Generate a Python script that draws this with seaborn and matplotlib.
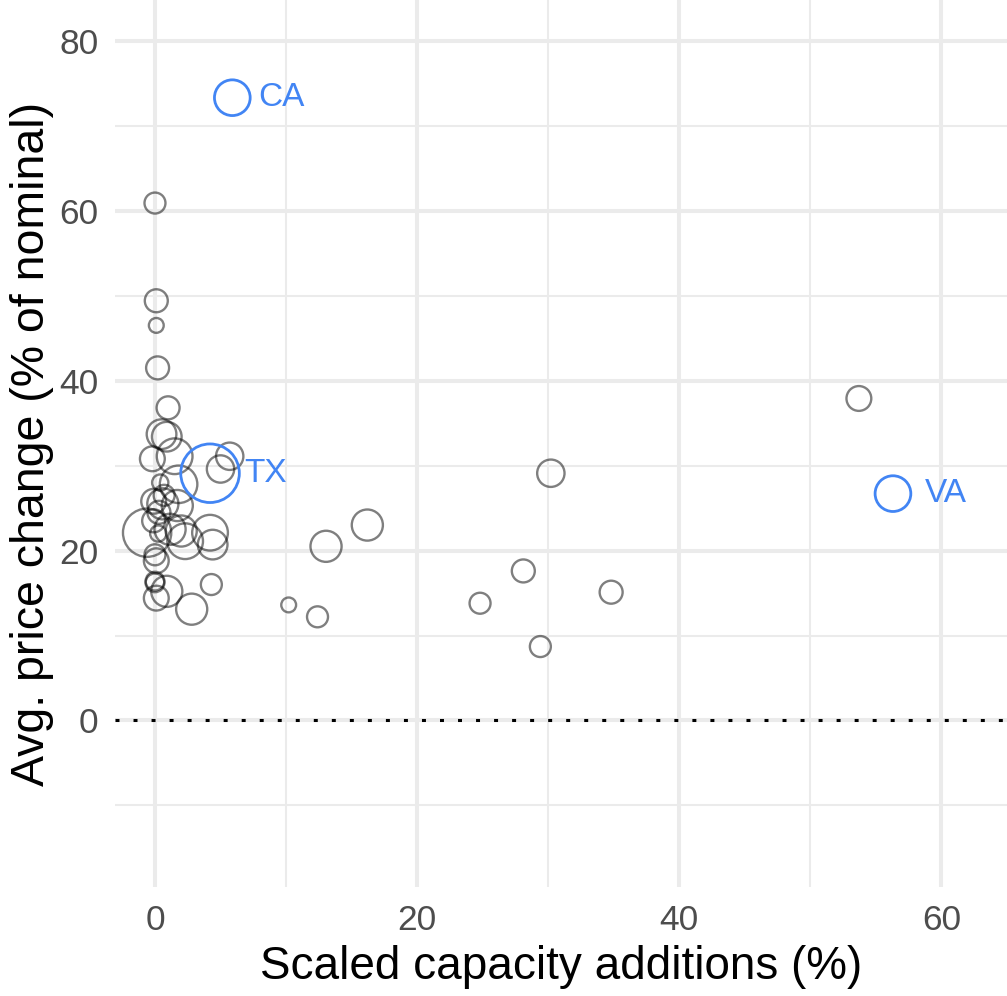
import numpy as np
import pandas as pd
import seaborn as sns
import matplotlib.pyplot as plt

sns.set_theme(style="whitegrid")
plt.rcParams['font.family'] = ['Liberation Sans', 'DejaVu Sans']

# states: scaled capacity additions (%), avg price change (%), bubble weight
states = ["CA", "TX", "VA"] + ["other"] * 44
cap_add = [5.9, 4.2, 56.3,
           0.0, 0.1, 0.1, 0.2, 1.0, 0.5, 0.9, -0.2, 1.5, 5.7, 5.0,
           1.8, 0.4, -0.1, 0.6, 1.7, -0.6, 1.15, 2.0, 0.25, 4.2, 2.3,
           4.4, 0.1, 0.0, 0.9, 0.1, 2.8, 4.3, 10.2, 12.4, 13.05, 16.2,
           24.8, 28.1, 30.2, 29.4, 34.8, 53.7, 0.3, 0.0, -0.1, 0.7, 0.0]
price_chg = [73.3, 29.1, 26.7,
             60.9, 49.4, 46.5, 41.5, 36.8, 33.7, 33.4, 30.8, 31.1, 31.1, 29.6,
             27.8, 28.0, 25.8, 25.5, 25.3, 22.1, 22.5, 22.3, 22.0, 22.1, 21.1,
             20.7, 18.8, 16.4, 15.2, 14.4, 13.1, 16.0, 13.6, 12.2, 20.5, 23.0,
             13.8, 17.6, 29.1, 8.7, 15.1, 37.9, 24.5, 19.5, 23.5, 26.5, 16.2]
weight = [29, 78, 29,
          10, 12, 5, 12, 12, 20, 20, 14, 29, 17, 17,
          32, 6, 14, 22, 22, 53, 22, 22, 6, 29, 29,
          20, 14, 8, 22, 14, 22, 10, 5, 10, 22, 22,
          10, 12, 17, 10, 12, 14, 12, 10, 12, 10, 8]

df = pd.DataFrame({"state": states, "cap": cap_add, "price": price_chg, "w": weight})
df["hl"] = df["state"] != "other"

fig = plt.figure(figsize=(10.07, 9.96), dpi=100)
ax = fig.add_axes([115 / 1007, 109 / 996, 892 / 1007, 887 / 996])

wmin, wmax = min(weight), max(weight)
k = (2 * 0.72) ** 2 * 10 * 1.1
others = df[~df.hl]
hl = df[df.hl]
sns.scatterplot(data=others, x="cap", y="price", size="w", sizes=(k * wmin, k * wmax),
                size_norm=(wmin, wmax), facecolor="none", edgecolor=(0, 0, 0, 0.5),
                linewidth=1.7, legend=False, ax=ax)
sns.scatterplot(data=hl, x="cap", y="price", size="w", sizes=(k * wmin, k * wmax),
                size_norm=(wmin, wmax), facecolor="none", edgecolor="#4285F4",
                linewidth=2.0, legend=False, ax=ax)

label_off = {"CA": 2.0, "TX": 2.6, "VA": 2.4}
for _, r in hl.iterrows():
    ax.text(r.cap + label_off[r.state], r.price, r.state, color="#4285F4",
            fontsize=24, va="center", ha="left")

ax.axhline(0, color="black", linestyle=(0, (1.3, 4.6)), linewidth=2.2,
           dash_capstyle="butt")

ax.set_xlim(-3.05, 65.0)
ax.set_ylim(-19.6, 84.8)
ax.set_xticks([0, 20, 40, 60])
ax.set_yticks([0, 20, 40, 60, 80])
ax.set_xticks([10, 30, 50], minor=True)
ax.set_yticks([-10, 10, 30, 50, 70], minor=True)
ax.grid(which="major", color="#EBEBEB", linewidth=2.9)
ax.grid(which="minor", color="#EBEBEB", linewidth=1.45)
ax.set_axisbelow(True)
for s in ax.spines.values():
    s.set_visible(False)
ax.tick_params(axis="both", which="both", length=0, labelsize=25.5, labelcolor="#4D4D4D")
ax.tick_params(axis="x", pad=12)
ax.tick_params(axis="y", pad=12)
ax.set_xlabel("Scaled capacity additions (%)", fontsize=33, labelpad=6, color="black")
ax.set_ylabel("Avg. price change (% of nominal)", fontsize=33.5, labelpad=4, color="black")

fig.savefig("out.png", dpi=100)
